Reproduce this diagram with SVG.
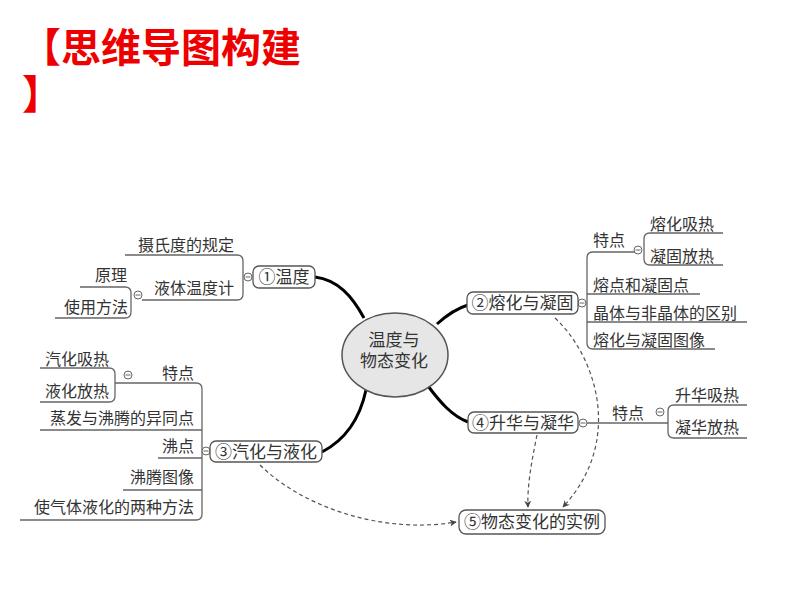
<svg xmlns="http://www.w3.org/2000/svg" width="800" height="600" viewBox="0 0 800 600">
<defs>
<style>
.t{font-family:"Noto Sans CJK SC","Noto Sans",sans-serif;font-size:16px;fill:#333}
.n{font-family:"Noto Sans CJK SC","Noto Sans",sans-serif;font-size:17px;fill:#333;text-anchor:middle}
.e{text-anchor:end}
.box{fill:#fff;stroke:#555;stroke-width:1.3}
.ln{fill:none;stroke:#666;stroke-width:1.3}
.thick{fill:none;stroke:#000;stroke-width:3}
.dash{fill:none;stroke:#555;stroke-width:1.2;stroke-dasharray:4 3}
.col{fill:#fff;stroke:#666;stroke-width:1}
</style>
<marker id="arr" viewBox="0 0 10 10" refX="9" refY="5" markerWidth="7" markerHeight="7" markerUnits="userSpaceOnUse" orient="auto">
<path d="M0,0 L10,5 L0,10 L3,5 z" fill="#444"/>
</marker>
<g id="collapse"><circle r="4" class="col"/><path d="M-2.5,0 H2.5" stroke="#666" stroke-width="1"/></g>
</defs>
<rect width="800" height="600" fill="#fff"/>
<g id="title" font-family="'Noto Sans CJK SC',sans-serif" font-size="40" font-weight="bold" fill="#ee0000">
<text x="21" y="62">【思维导图构建</text>
<text x="22" y="109">】</text>
</g>
<g id="connectors">
<path class="thick" d="M315,277 C338,280 352,296 364,318"/>
<path class="thick" d="M437,324 C448,314 458,308 468,305"/>
<path class="thick" d="M322,452 C345,440 360,418 366,390"/>
<path class="thick" d="M428,386 C440,402 452,416 468,422"/>
<path class="dash" d="M555,318 C595,355 625,440 563,507" marker-end="url(#arr)"/>
<path class="dash" d="M537,435 C532,460 527,485 528,507" marker-end="url(#arr)"/>
<path class="dash" d="M260,465 C300,505 380,535 456,522" marker-end="url(#arr)"/>
</g>
<g id="center">
<ellipse cx="395" cy="355" rx="53" ry="42" fill="#e6e6e6" stroke="#555" stroke-width="1.5"/>
<text class="n" x="394" y="346" font-size="20">温度与</text>
<text class="n" x="394" y="367" font-size="20">物态变化</text>
</g>
<g id="n1">
<path class="ln" d="M125,255 H237 Q243,255 243,261 V294 Q243,300 237,300 H142"/>
<path class="ln" d="M80,287 H125 Q131,287 131,293 V312 Q131,318 125,318 H55"/>
<use href="#collapse" x="248" y="277"/>
<use href="#collapse" x="138" y="295"/>
<rect class="box" x="253" y="266" width="62" height="22" rx="6"/>
<text class="n" x="284" y="283">①温度</text>
<text class="t e" x="234" y="251">摄氏度的规定</text>
<text class="t e" x="234" y="294">液体温度计</text>
<text class="t e" x="127" y="281">原理</text>
<text class="t e" x="128" y="313">使用方法</text>
</g>
<g id="n2">
<path class="ln" d="M635,252 H593 Q587,252 587,258 V343 Q587,349 593,349 H715"/>
<path class="ln" d="M587,294 H700 M587,322 H747"/>
<path class="ln" d="M723,233 H650 Q644,233 644,239 V259 Q644,265 650,265 H723"/>
<use href="#collapse" x="582" y="303"/>
<use href="#collapse" x="638" y="250"/>
<rect class="box" x="467" y="292" width="111" height="22" rx="6"/>
<text class="n" x="522.5" y="309">②熔化与凝固</text>
<text class="t" x="593" y="246">特点</text>
<text class="t" x="650" y="230">熔化吸热</text>
<text class="t" x="650" y="262">凝固放热</text>
<text class="t" x="593" y="291">熔点和凝固点</text>
<text class="t" x="593" y="319">晶体与非晶体的区别</text>
<text class="t" x="593" y="346">熔化与凝固图像</text>
</g>
<g id="n3">
<path class="ln" d="M40,368 H109 Q115,368 115,374 V396 Q115,402 109,402 H40"/>
<path class="ln" d="M115,383 H196 Q202,383 202,389 V514 Q202,520 196,520 H20"/>
<path class="ln" d="M40,430 H202 M158,458 H202 M123,490 H202"/>
<use href="#collapse" x="128" y="375"/>
<use href="#collapse" x="206" y="451"/>
<rect class="box" x="210" y="441" width="112" height="21" rx="6"/>
<text class="n" x="266" y="458">③汽化与液化</text>
<text class="t" x="45" y="365">汽化吸热</text>
<text class="t" x="45" y="397">液化放热</text>
<text class="t e" x="194" y="379">特点</text>
<text class="t e" x="194" y="424">蒸发与沸腾的异同点</text>
<text class="t e" x="194" y="452">沸点</text>
<text class="t e" x="194" y="483">沸腾图像</text>
<text class="t e" x="194" y="513">使气体液化的两种方法</text>
</g>
<g id="n4">
<path class="ln" d="M587,423 H668"/>
<path class="ln" d="M747,405 H674 Q668,405 668,411 V432 Q668,438 674,438 H747"/>
<use href="#collapse" x="583" y="423"/>
<use href="#collapse" x="660" y="412"/>
<rect class="box" x="468" y="412" width="110" height="21" rx="6"/>
<text class="n" x="523" y="429">④升华与凝华</text>
<text class="t" x="612" y="419">特点</text>
<text class="t" x="675" y="401">升华吸热</text>
<text class="t" x="675" y="433">凝华放热</text>
</g>
<g id="n5">
<rect class="box" x="459" y="510" width="146" height="24" rx="7"/>
<text class="n" x="532" y="528">⑤物态变化的实例</text>
</g>
</svg>
